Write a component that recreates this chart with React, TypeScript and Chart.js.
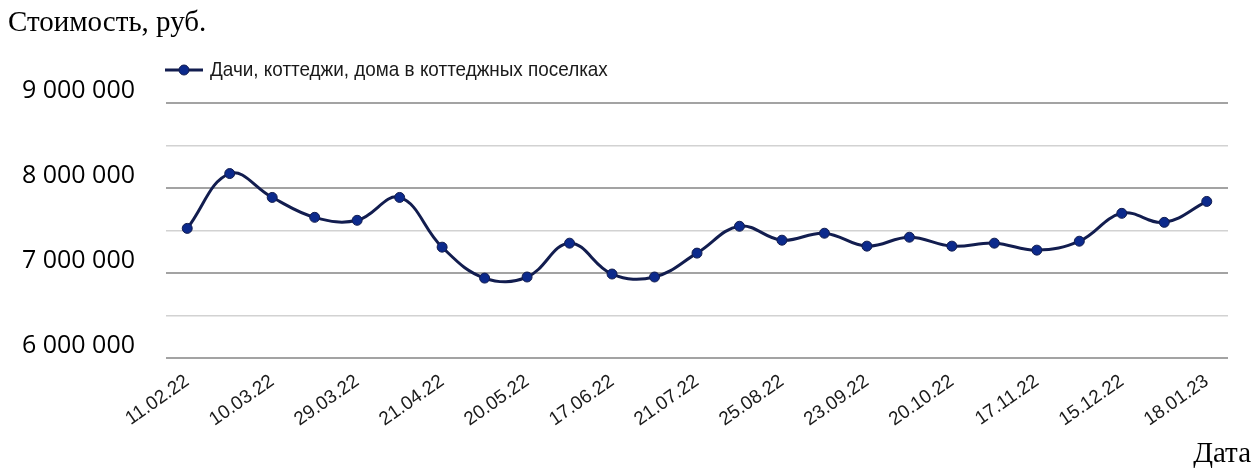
import React, { useEffect, useRef } from "react";
import { Chart, registerables } from "chart.js";

Chart.register(...registerables);

// ---- data ----
const tickDates = [
  "11.02.22", "10.03.22", "29.03.22", "21.04.22", "20.05.22", "17.06.22", "21.07.22",
  "25.08.22", "23.09.22", "20.10.22", "17.11.22", "15.12.22", "18.01.23",
];
const prices = [
  7525000, 8170000, 7889000, 7655000, 7620000, 7889000, 7304000, 6940000, 6953000,
  7351000, 6988000, 6953000, 7234000, 7550000, 7386000, 7468000, 7316000, 7421000,
  7316000, 7351000, 7269000, 7374000, 7702000, 7596000, 7842000,
];
const seriesName = "Дачи, коттеджи, дома в коттеджных поселках";
const yTitle = "Стоимость, руб.";
const xTitle = "Дата";
const yMin = 6000000;
const yMax = 9000000;
const yStep = 500000;
const yLabelStep = 1000000;

const categories = prices.map((_, i) => (i % 2 === 0 ? tickDates[i / 2] : ""));

const LINE = "#121d4f";
const POINT = "#0c2a8c";

const fmt = (v: number) => String(Math.round(v)).replace(/\B(?=(\d{3})+(?!\d))/g, " ");

const overlay = {
  id: "overlay",
  afterDraw(chart: any) {
    const { ctx, chartArea } = chart;
    ctx.save();
    ctx.fillStyle = "#000";
    ctx.font = "29px 'Liberation Serif', 'Times New Roman', serif";
    ctx.textBaseline = "alphabetic";
    ctx.textAlign = "left";
    ctx.fillText(yTitle, 8, 31);
    ctx.textAlign = "right";
    ctx.fillText(xTitle, chart.width - 6, 462);

    // legend
    const ly = chartArea.top - 33;
    const lx = chartArea.left - 1;
    ctx.strokeStyle = LINE;
    ctx.lineWidth = 3;
    ctx.beginPath();
    ctx.moveTo(lx, ly);
    ctx.lineTo(lx + 38, ly);
    ctx.stroke();
    ctx.fillStyle = POINT;
    ctx.beginPath();
    ctx.arc(lx + 19, ly, 5, 0, Math.PI * 2);
    ctx.fill();
    ctx.lineWidth = 1;
    ctx.stroke();

    ctx.fillStyle = "#1a1a1a";
    ctx.textAlign = "left";
    ctx.textBaseline = "middle";
    ctx.font = "21px 'Liberation Sans Narrow', 'Liberation Sans', Arial, sans-serif";
    ctx.translate(lx + 45, ly);
    ctx.scale(0.9, 1);
    ctx.fillText(seriesName, 0, 0);
    ctx.restore();
  },
};

export default function App() {
  const ref = useRef<HTMLCanvasElement | null>(null);

  useEffect(() => {
    if (!ref.current) return;
    const chart = new Chart(ref.current, {
      type: "line",
      data: {
        labels: categories,
        datasets: [
          {
            label: seriesName,
            data: prices,
            borderColor: LINE,
            borderWidth: 3,
            tension: 0.4,
            pointRadius: 5,
            pointBackgroundColor: POINT,
            pointBorderColor: LINE,
            pointBorderWidth: 1,
            fill: false,
          },
        ],
      },
      options: {
        animation: false,
        responsive: true,
        maintainAspectRatio: false,
        layout: { padding: { top: 103, right: 29, bottom: 0, left: 0 } },
        plugins: {
          legend: { display: false },
          title: { display: false },
          tooltip: { enabled: false },
        },
        scales: {
          x: {
            offset: true,
            grid: { display: false, drawTicks: false },
            border: { display: false },
            ticks: {
              autoSkip: false,
              minRotation: 35,
              maxRotation: 35,
              padding: 12,
              color: "#1a1a1a",
              font: { family: "'Liberation Sans', Arial, sans-serif", size: 19 },
            },
            afterFit: (scale: any) => {
              scale.height = 114;
            },
          },
          y: {
            min: yMin,
            max: yMax,
            grid: {
              drawTicks: false,
              color: (c: any) =>
                c.tick && c.tick.value % yLabelStep === 0 ? "#a3a3a3" : "#d2d2d2",
              lineWidth: (c: any) => (c.tick && c.tick.value % yLabelStep === 0 ? 2 : 1.5),
            },
            border: { display: false },
            ticks: {
              stepSize: yStep,
              padding: 31,
              labelOffset: -12,
              color: "#000",
              font: { family: "'Open Sans', sans-serif", size: 25 },
              callback: (v: any) => (Number(v) % yLabelStep === 0 ? fmt(Number(v)) : ""),
            },
            afterFit: (scale: any) => {
              scale.width = 166;
            },
          },
        },
      },
      plugins: [overlay],
    });
    return () => chart.destroy();
  }, []);

  return (
    <div style={{ position: "fixed", left: 0, top: 0, width: 1257, height: 472, background: "#fff" }}>
      <canvas ref={ref} />
    </div>
  );
}
